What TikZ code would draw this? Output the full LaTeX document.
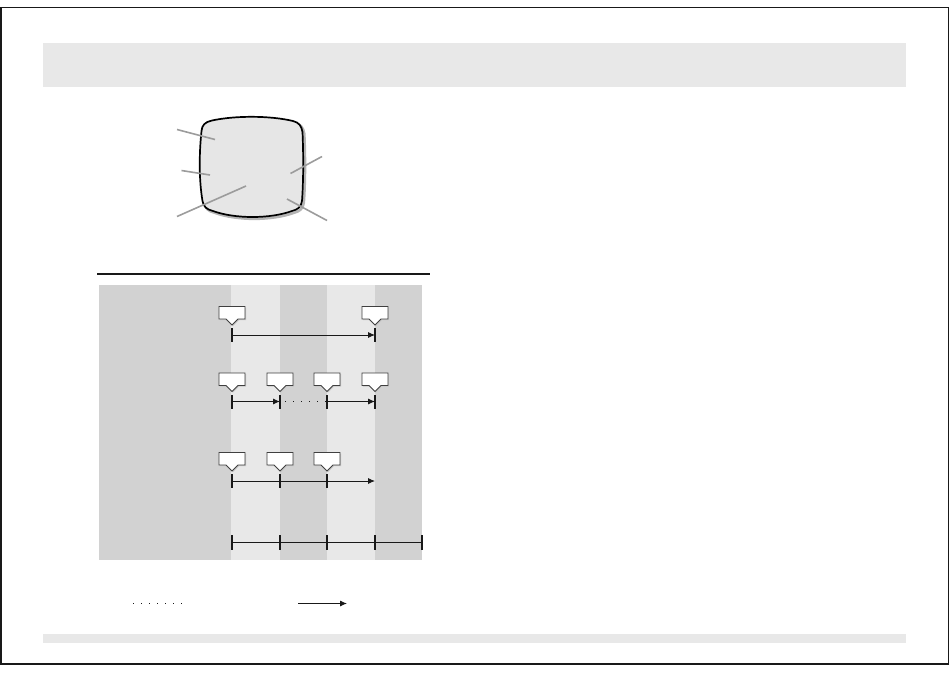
\documentclass[tikz,border=0pt]{standalone}
\usetikzlibrary{arrows.meta}
\definecolor{bandgrey}{HTML}{E8E8E8}
\definecolor{darkcol}{HTML}{D2D2D2}
\definecolor{lightcol}{HTML}{E8E8E8}
\definecolor{leadergrey}{HTML}{9C9C9C}
\definecolor{screengrey}{HTML}{E6E6E6}
\definecolor{shadegrey}{HTML}{B4B4B4}
\begin{document}
\begin{tikzpicture}[x=1pt,y=-1pt,
  tickline/.style={line width=1.7pt,black!90},
  timeline/.style={line width=0.9pt,black!90},
  arr/.style={timeline,-{Latex[length=7pt,width=6pt]}},
  dots/.style={timeline,dash pattern=on 1.2pt off 6.8pt},
  leaderline/.style={leadergrey,line width=1.6pt},
  callout/.pic={
    \fill[black!22] (-12,-17.5) -- (14,-17.5) -- (14,-5) -- (7,-5) -- (1,1) -- (-5,-5) -- (-12,-5) -- cycle;
    \draw[black!75,line width=0.9pt,fill=white,line join=miter] (-13,-18.5) -- (13,-18.5) -- (13,-6) -- (6,-6) -- (0,0) -- (-6,-6) -- (-13,-6) -- cycle;
    \coordinate (-tip) at (0,0);
  }]
\useasboundingbox (0,0) rectangle (950,673);
% frame and bands
\draw[line width=1.5pt,black!90] (1,7.5) rectangle (948.5,664);
\fill[bandgrey] (43,43) rectangle (906,87);
\fill[bandgrey] (43,634) rectangle (906,643);
% monitor screen
\def\screenpath{(201.5,131) .. controls (202,125) and (205,122) .. (212,120.5) .. controls (235,115.5) and (270,115.5) .. (293,121) .. controls (299,122.5) and (301.5,126) .. (302.5,132) .. controls (303.5,155) and (303.5,180) .. (302,201) .. controls (301,207) and (298,209.5) .. (292,211) .. controls (270,219) and (235,219) .. (213,211) .. controls (207,209.5) and (203.5,207) .. (202.5,201) .. controls (199,180) and (199,155) .. cycle}
\draw[shadegrey,line width=2.6pt,xshift=1.8pt,yshift=-1.8pt] \screenpath;
\draw[black,line width=1.7pt,fill=screengrey] \screenpath;
% leader lines
\coordinate (l1a) at (177,129.5); \coordinate (l1b) at (215,139.5);
\coordinate (l2a) at (181.5,170.5); \coordinate (l2b) at (210,175);
\coordinate (l3a) at (177,216.5); \coordinate (l3b) at (246,186);
\coordinate (l4a) at (322,156.5); \coordinate (l4b) at (290.5,173.5);
\coordinate (l5a) at (287,199); \coordinate (l5b) at (327,220.5);
\draw[leaderline] (l1a) -- (l1b);
\draw[leaderline] (l2a) -- (l2b);
\draw[leaderline] (l3a) -- (l3b);
\draw[leaderline] (l4a) -- (l4b);
\draw[leaderline] (l5a) -- (l5b);
% rule
\coordinate (ruleL) at (97,274); \coordinate (ruleR) at (430,274);
\draw[line width=2pt,black!90] (ruleL) -- (ruleR);
% chart background
\fill[darkcol] (99,285) rectangle (422,560);
\fill[lightcol] (231,285) rectangle (280,560);
\fill[lightcol] (327,285) rectangle (375,560);
% row 1
\pic (c11) at (232,325) {callout};
\pic (c12) at (375,325) {callout};
\coordinate (r1a) at (232,335); \coordinate (r1d) at (375,335);
\draw[tickline] (232,328) -- (232,342);
\draw[tickline] (375,328) -- (375,342);
\draw[arr] (r1a) -- (r1d);
% row 2
\pic (c21) at (232,391.5) {callout};
\pic (c22) at (280,391.5) {callout};
\pic (c23) at (327,391.5) {callout};
\pic (c24) at (375,391.5) {callout};
\coordinate (r2a) at (232,401.5); \coordinate (r2b) at (280,401.5);
\coordinate (r2c) at (327,401.5); \coordinate (r2d) at (375,401.5);
\foreach \x in {232,280,327,375} \draw[tickline] (\x,395) -- (\x,408.5);
\draw[arr] (r2a) -- (r2b);
\draw[dots] ([xshift=5pt]r2b) -- (r2c);
\draw[arr] (r2c) -- (r2d);
% row 3
\pic (c31) at (232,471) {callout};
\pic (c32) at (280,471) {callout};
\pic (c33) at (327,471) {callout};
\coordinate (r3a) at (232,481); \coordinate (r3end) at (375,481);
\foreach \x in {232,280,327} \draw[tickline] (\x,474) -- (\x,488);
\draw[arr] (r3a) -- (r3end);
% row 4
\coordinate (r4a) at (232,542.5); \coordinate (r4e) at (422,542.5);
\foreach \x in {232,280,327,375,422} \draw[tickline] (\x,535) -- (\x,550);
\draw[timeline] (r4a) -- (r4e);
% legend
\coordinate (lgdA) at (133,603.5); \coordinate (lgdB) at (182,603.5);
\coordinate (lgaA) at (298,603.5); \coordinate (lgaB) at (347,603.5);
\draw[dots] (lgdA) -- (lgdB);
\draw[arr] (lgaA) -- (lgaB);
\end{tikzpicture}
\end{document}
